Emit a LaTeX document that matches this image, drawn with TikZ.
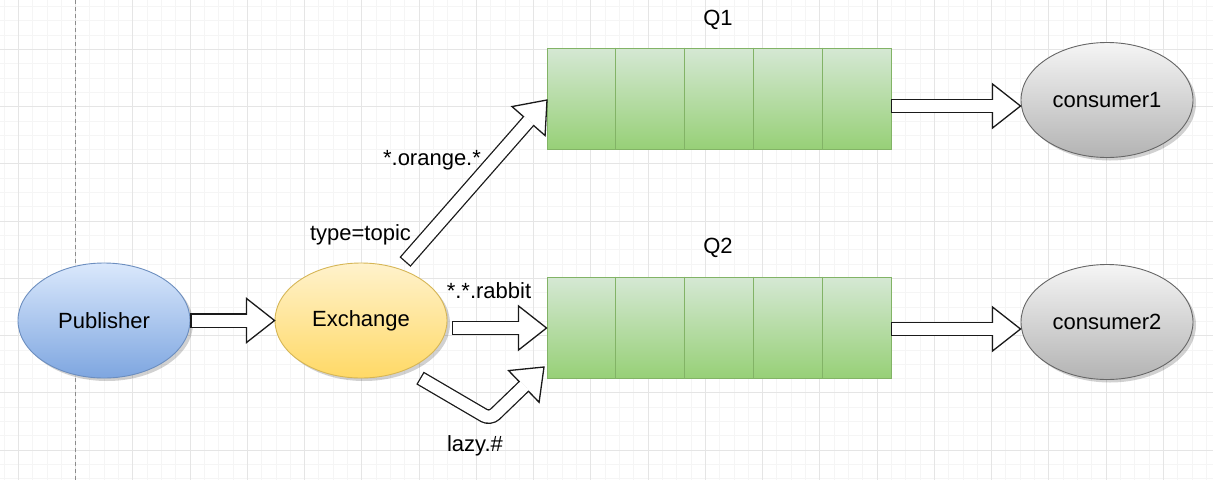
\documentclass[tikz,border=0pt]{standalone}
\usepackage{fontspec}
\setmainfont{Liberation Sans}
\usetikzlibrary{shapes.geometric,calc,shadows}
\definecolor{pubtop}{HTML}{DAE8FC}
\definecolor{pubbot}{HTML}{7EA6E0}
\definecolor{publine}{HTML}{6C8EBF}
\definecolor{extop}{HTML}{FFF2CC}
\definecolor{exbot}{HTML}{FFD966}
\definecolor{exline}{HTML}{D6B656}
\definecolor{qtop}{HTML}{D5E8D4}
\definecolor{qbot}{HTML}{97D077}
\definecolor{qline}{HTML}{82B366}
\definecolor{ctop}{HTML}{F5F5F5}
\definecolor{cbot}{HTML}{B3B3B3}
\definecolor{cline}{HTML}{666666}
\definecolor{arrowc}{HTML}{1A1A1A}
\tikzset{
  minorgrid/.style={draw=black!4, line width=0.8pt},
  majorgrid/.style={draw=black!10, line width=0.9pt},
  ell/.style={ellipse, minimum width=172pt, minimum height=115pt, line width=0.9pt,
    font=\fontsize{22}{26}\selectfont,
    drop shadow={shadow xshift=3pt, shadow yshift=-3pt, fill=black, opacity=0.18}},
  pubst/.style={ell, draw=publine, top color=pubtop, bottom color=pubbot},
  exst/.style={ell, draw=exline, top color=extop, bottom color=exbot},
  cst/.style={ell, draw=cline, top color=ctop, bottom color=cbot},
  queue/.style={rectangle, minimum width=344pt, minimum height=101pt, line width=0.9pt,
    draw=qline, top color=qtop, bottom color=qbot},
  qdiv/.style={draw=qline, line width=0.9pt},
  shaftout/.style={line width=14.6pt, draw=arrowc, rounded corners=7pt},
  shaftin/.style={line width=12pt, draw=white, rounded corners=7pt, shorten <=1.3pt, shorten >=-1pt},
  headst/.style={fill=white, draw=arrowc, line width=1.3pt, line join=miter},
  lbl/.style={font=\fontsize{22}{26}\selectfont, inner sep=0pt}
}
\newcommand{\flexarr}[3]{%
  \draw[shaftout] #1;
  \filldraw[headst] ($(#2)!22pt!90:(#3)$) -- (#3) -- ($(#2)!22pt!-90:(#3)$) -- cycle;
  \draw[shaftin] #1;
}
\begin{document}
\begin{tikzpicture}[x=1pt, y=-1pt]
\useasboundingbox (0,0) rectangle (1213,480);
\fill[white] (0,0) rectangle (1213,480);
% grid
\foreach \i in {0,...,84} { \draw[minorgrid] ({4+\i*14.3125},0) -- ({4+\i*14.3125},480); }
\foreach \i in {0,...,33} { \draw[minorgrid] (0,{6.4+\i*14.3125}) -- (1213,{6.4+\i*14.3125}); }
\foreach \i in {0,...,20} { \draw[majorgrid] ({18.3+\i*57.25},0) -- ({18.3+\i*57.25},480); }
\foreach \i in {0,...,7} { \draw[majorgrid] (0,{49.3+\i*57.25}) -- (1213,{49.3+\i*57.25}); }
\draw[draw=black!45, line width=0.9pt, dash pattern=on 4pt off 3pt] (75.5,0) -- (75.5,480);

% nodes
\node[pubst] (pub) at (104,320.5) {Publisher};
\node[exst] (ex) at (361,320.5) {Exchange};
\node[cst] (c1) at (1107,100) {consumer1};
\node[cst] (c2) at (1107,322) {consumer2};
\node[queue] (q1) at (719,98.5) {};
\node[queue] (q2) at (719,327.5) {};
\foreach \q in {q1,q2} {
  \foreach \f in {0.2,0.4,0.6,0.8} {
    \draw[qdiv] ($(\q.north west)!\f!(\q.north east)$) -- ($(\q.south west)!\f!(\q.south east)$);
  }
}

% labels
\node[lbl] (lq1) at (718,20) {Q1};
\node[lbl] (lq2) at (718,248) {Q2};
\node[lbl] (ltype) at (360.5,235) {type=topic};
\node[lbl] (lorange) at (432,160) {*.orange.*};
\node[lbl] (lrabbit) at (489,291) {*.*.rabbit};
\node[lbl] (llazy) at (475,446) {lazy.\#};

% arrow coordinates
\coordinate (a1s) at (pub.east);
\coordinate (a1t) at (ex.west);
\coordinate (a1b) at ($(a1t)+(-28,0)$);

\coordinate (a2s) at (452,328);
\coordinate (a2t) at (q2.west |- a2s);
\coordinate (a2b) at ($(a2t)+(-28,0)$);

\coordinate (a3s) at (405,262);
\coordinate (a3t) at (547,100);
\coordinate (a3b) at ($(a3t)!28pt!(a3s)$);

\coordinate (a4s) at (420,378);
\coordinate (a4m) at (490,419);
\coordinate (a4t) at (544,367);
\coordinate (a4b) at ($(a4t)!28pt!(a4m)$);

\coordinate (a5s) at (891,106);
\coordinate (a5t) at (1020.5,106);
\coordinate (a5b) at ($(a5t)+(-28,0)$);

\coordinate (a6s) at (891,329);
\coordinate (a6t) at (1020.5,329);
\coordinate (a6b) at ($(a6t)+(-28,0)$);

\flexarr{(a1s) -- (a1b)}{a1b}{a1t}
\flexarr{(a2s) -- (a2b)}{a2b}{a2t}
\flexarr{(a3s) -- (a3b)}{a3b}{a3t}
\flexarr{(a4s) -- (a4m) -- (a4b)}{a4b}{a4t}
\flexarr{(a5s) -- (a5b)}{a5b}{a5t}
\flexarr{(a6s) -- (a6b)}{a6b}{a6t}
\end{tikzpicture}
\end{document}
